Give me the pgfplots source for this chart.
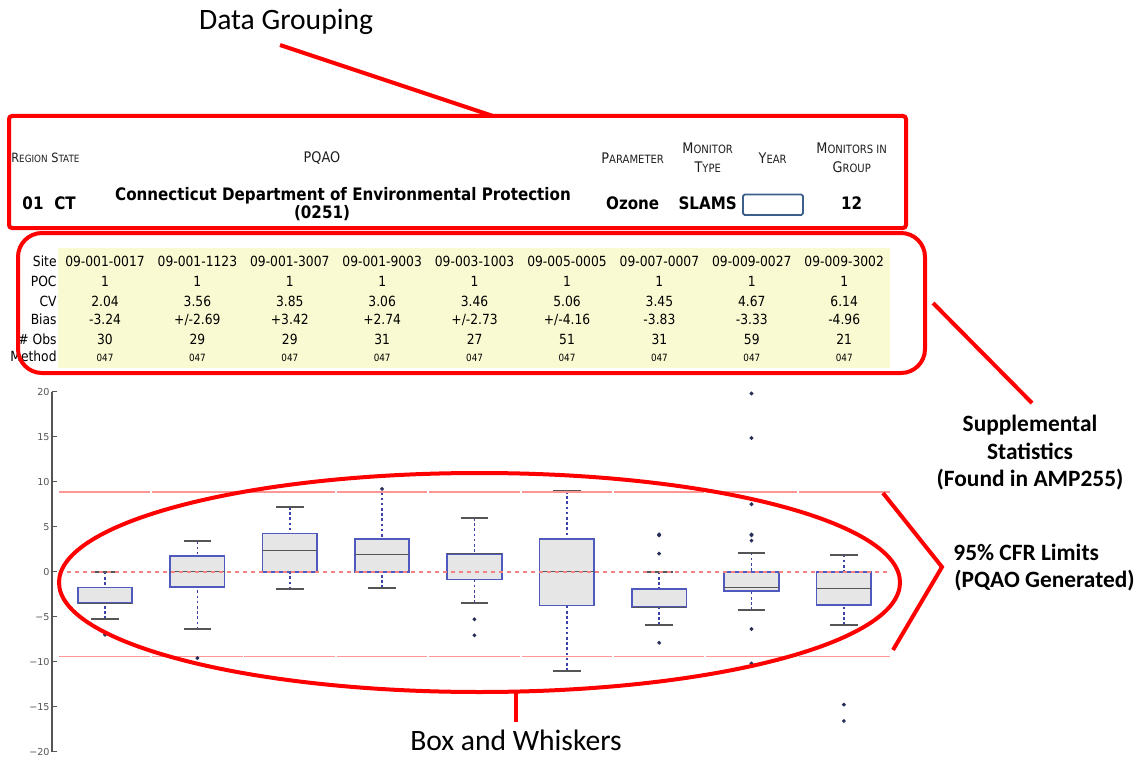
\documentclass[border=0pt]{standalone}
\usepackage{pgfplots}
\pgfplotsset{compat=1.18}
\usepgfplotslibrary{statistics}
\usepackage{fontspec}
\setmainfont{Carlito}
\newfontfamily\tah[FakeStretch=0.88]{DejaVu Sans}
\newfontfamily\dvs{DejaVu Sans}
\definecolor{annred}{RGB}{255,0,0}
\definecolor{limpink}{RGB}{255,150,150}
\definecolor{zeropink}{RGB}{240,130,130}
\definecolor{boxblue}{RGB}{80,90,190}
\definecolor{whiskblue}{RGB}{60,66,170}
\definecolor{capgray}{RGB}{85,85,85}
\definecolor{boxfill}{RGB}{230,230,230}
\definecolor{outcol}{RGB}{40,48,90}
\definecolor{tabyellow}{RGB}{250,250,210}
\definecolor{yearblue}{RGB}{60,95,140}
\definecolor{hdrtext}{RGB}{30,30,30}
\newcommand\scA[1]{{\fontsize{7.3}{8}\selectfont #1}}
\newcommand\scB[1]{{\fontsize{5.7}{7}\selectfont #1}}
\newcommand\scC[1]{{\fontsize{6.4}{8}\selectfont #1}}
\newcommand\scD[1]{{\fontsize{5.0}{7}\selectfont #1}}
\newcommand\tabfont{\tah\fontsize{7}{8}\selectfont}
\newcommand\tabsmall{\tah\fontsize{5}{6}\selectfont}
\newcommand\hdrfont{\tah\bfseries\fontsize{8.6}{10}\selectfont}
\newcommand\trow[9]{%
  \node[anchor=base,font=\tabfont] at (105,\ty) {#1};
  \node[anchor=base,font=\tabfont] at (197.4,\ty) {#2};
  \node[anchor=base,font=\tabfont] at (289.8,\ty) {#3};
  \node[anchor=base,font=\tabfont] at (382.2,\ty) {#4};
  \node[anchor=base,font=\tabfont] at (474.6,\ty) {#5};
  \node[anchor=base,font=\tabfont] at (567,\ty) {#6};
  \node[anchor=base,font=\tabfont] at (659.4,\ty) {#7};
  \node[anchor=base,font=\tabfont] at (751.8,\ty) {#8};
  \node[anchor=base,font=\tabfont] at (844.2,\ty) {#9};}
\pgfplotsset{
  boxplot/draw/lower whisker/.code={%
    \draw[draw=whiskblue, line width=0.85pt, dash pattern=on 1.3pt off 1.3pt]
      (boxplot box cs:\pgfplotsboxplotvalue{lower whisker},0.5) --
      (boxplot box cs:\pgfplotsboxplotvalue{lower quartile},0.5);
    \draw[draw=capgray, line width=1pt, solid]
      (boxplot whisker cs:\pgfplotsboxplotvalue{lower whisker},0) --
      (boxplot whisker cs:\pgfplotsboxplotvalue{lower whisker},1);
  },
  boxplot/draw/upper whisker/.code={%
    \draw[draw=whiskblue, line width=0.85pt, dash pattern=on 1.3pt off 1.3pt]
      (boxplot box cs:\pgfplotsboxplotvalue{upper whisker},0.5) --
      (boxplot box cs:\pgfplotsboxplotvalue{upper quartile},0.5);
    \draw[draw=capgray, line width=1pt, solid]
      (boxplot whisker cs:\pgfplotsboxplotvalue{upper whisker},0) --
      (boxplot whisker cs:\pgfplotsboxplotvalue{upper whisker},1);
  },
  boxplot/draw/median/.code={%
    \draw[draw=capgray, line width=0.5pt, solid]
      (boxplot box cs:\pgfplotsboxplotvalue{median},0) --
      (boxplot box cs:\pgfplotsboxplotvalue{median},1);
  },
  boxplot/every box/.style={draw=boxblue, fill=boxfill, line width=0.85pt, solid},
  bx/.style={mark=*, mark size=0.75pt, mark options={draw=outcol, fill=outcol, solid}},
  limline/.style={draw=limpink, color=limpink, line width=0.8pt, solid, no markers, unbounded coords=jump},
}
\begin{document}
\begin{tikzpicture}
\begin{scope}[x=0.5pt,y=-0.5pt]
\path[use as bounding box] (0,0) rectangle (1141,757);
\coordinate (axo) at (52,751.7);
\end{scope}
\begin{axis}[at={(axo)}, anchor=south west, scale only axis,
  width=419pt, height=180pt,
  xmin=0.426, xmax=9.5, ymin=-20, ymax=20,
  axis x line=none, axis y line=left,
  y axis line style={-, draw=capgray, line width=0.6pt},
  ytick={-20,-15,-10,-5,0,5,10,15,20},
  yticklabels={−20,−15,−10,−5,0,5,10,15,20},
  yticklabel style={font=\dvs\fontsize{4.8}{5}\selectfont, text=capgray, inner sep=1pt},
  tick align=inside, major tick length=2.5pt,
  tick style={draw=capgray, line width=0.6pt},
  clip=false,
  boxplot/draw direction=y,
  boxplot/box extend=0.59, boxplot/whisker extend=0.3,
]
\addplot[bx, boxplot prepared={draw position=1, lower whisker=-5.25, lower quartile=-3.51, median=-3.51, upper quartile=-1.74, upper whisker=0}]
  table[row sep=\\, y index=0] {y\\ -7.0\\};
\addplot[bx, boxplot prepared={draw position=2, lower whisker=-6.4, lower quartile=-1.7, median=0, upper quartile=1.71, upper whisker=3.37}]
  table[row sep=\\, y index=0] {y\\ -9.6\\};
\addplot[bx, boxplot prepared={draw position=3, lower whisker=-1.96, lower quartile=0, median=2.41, upper quartile=4.26, upper whisker=7.19}]
  coordinates {};
\addplot[bx, boxplot prepared={draw position=4, lower whisker=-1.81, lower quartile=0, median=1.86, upper quartile=3.6, upper whisker=8.82}]
  table[row sep=\\, y index=0] {y\\ 9.2\\};
\addplot[bx, boxplot prepared={draw position=5, lower whisker=-3.48, lower quartile=-0.88, median=1.97, upper quartile=1.97, upper whisker=5.97}]
  table[row sep=\\, y index=0] {y\\ -5.29\\ -7.07\\};
\addplot[bx, boxplot prepared={draw position=6, lower whisker=-11.0, lower quartile=-3.77, median=0, upper quartile=3.6, upper whisker=8.97}]
  coordinates {};
\addplot[bx, boxplot prepared={draw position=7, lower whisker=-5.92, lower quartile=-3.96, median=-3.96, upper quartile=-1.92, upper whisker=0}]
  table[row sep=\\, y index=0] {y\\ 4.15\\ 4.04\\ 2.01\\ -7.9\\};
\addplot[bx, boxplot prepared={draw position=8, lower whisker=-4.25, lower quartile=-2.14, median=-1.74, upper quartile=0, upper whisker=2.12}]
  table[row sep=\\, y index=0] {y\\ 19.8\\ 14.86\\ 7.5\\ 4.13\\ 4.04\\ 3.45\\ -6.37\\ -10.2\\};
\addplot[bx, boxplot prepared={draw position=9, lower whisker=-5.92, lower quartile=-3.7, median=-1.85, upper quartile=0, upper whisker=1.89}]
  table[row sep=\\, y index=0] {y\\ -14.77\\ -16.59\\};
\addplot[limline] coordinates {
(0.5,8.85)(1.49,8.85)(1.5,nan)(1.51,8.85)(2.49,8.85)(2.5,nan)(2.51,8.85)(3.49,8.85)(3.5,nan)
(3.51,8.85)(4.49,8.85)(4.5,nan)(4.51,8.85)(5.49,8.85)(5.5,nan)(5.51,8.85)(6.49,8.85)(6.5,nan)
(6.51,8.85)(7.49,8.85)(7.5,nan)(7.51,8.85)(8.49,8.85)(8.5,nan)(8.51,8.85)(9.5,8.85)};
\addplot[limline] coordinates {
(0.5,-9.44)(1.49,-9.44)(1.5,nan)(1.51,-9.44)(2.49,-9.44)(2.5,nan)(2.51,-9.44)(3.49,-9.44)(3.5,nan)
(3.51,-9.44)(4.49,-9.44)(4.5,nan)(4.51,-9.44)(5.49,-9.44)(5.5,nan)(5.51,-9.44)(6.49,-9.44)(6.5,nan)
(6.51,-9.44)(7.49,-9.44)(7.5,nan)(7.51,-9.44)(8.49,-9.44)(8.5,nan)(8.51,-9.44)(9.5,-9.44)};
\addplot[draw=zeropink, color=zeropink, no markers, line width=0.8pt, dash pattern=on 2pt off 2pt] coordinates {(0.5,0) (9.5,0)};
\end{axis}
\begin{scope}[x=0.5pt,y=-0.5pt]
% ---- header ----
\node[anchor=base west, font=\fontsize{14.8}{16}\selectfont] at (192,30) {Data Grouping};
\draw[annred, line width=2pt] (280,45) -- (493,116);
\node[anchor=base west, text=hdrtext, font=\tah, inner sep=0pt] at (11,162.7) {\scC{R}\scD{EGION}};
\node[anchor=base west, text=hdrtext, font=\tah, inner sep=0pt] at (51,162.7) {\scC{S}\scD{TATE}};
\node[anchor=base, text=hdrtext, font=\tah] at (322,162.7) {\scA{PQAO}};
\node[anchor=base, text=hdrtext, font=\tah] at (632.7,163) {\scA{P}\scB{ARAMETER}};
\node[anchor=base, text=hdrtext, font=\tah] at (707.7,153.3) {\scA{M}\scB{ONITOR}};
\node[anchor=base, text=hdrtext, font=\tah] at (707.7,172.7) {\scA{T}\scB{YPE}};
\node[anchor=base, text=hdrtext, font=\tah] at (772.7,163) {\scA{Y}\scB{EAR}};
\node[anchor=base, text=hdrtext, font=\tah] at (851.7,153.3) {\scA{M}\scB{ONITORS IN}};
\node[anchor=base, text=hdrtext, font=\tah] at (851.7,172.7) {\scA{G}\scB{ROUP}};
\node[anchor=base, font=\hdrfont] at (33,209.3) {01};
\node[anchor=base, font=\hdrfont] at (65,209.3) {CT};
\node[anchor=base, font=\hdrfont] at (343,200.7) {Connecticut Department of Environmental Protection};
\node[anchor=base, font=\hdrfont] at (322,218.5) {(0251)};
\node[anchor=base, font=\hdrfont] at (632.7,209) {Ozone};
\node[anchor=base, font=\hdrfont] at (707.7,209) {SLAMS};
\node[anchor=base, font=\hdrfont] at (851.7,209) {12};
\draw[yearblue, line width=0.9pt, rounded corners=0.8pt] (743,194.5) rectangle (803,215);
\draw[annred, line width=2pt, rounded corners=1.5pt] (9,116) rectangle (906,228);
% ---- table ----
\fill[tabyellow] (58,248) rectangle (890,368);
\node[anchor=base east, font=\tabfont, inner sep=0pt] at (57,266) {Site};
\node[anchor=base east, font=\tabfont, inner sep=0pt] at (57,286.7) {POC};
\node[anchor=base east, font=\tabfont, inner sep=0pt] at (57,306) {CV};
\node[anchor=base east, font=\tabfont, inner sep=0pt] at (57,324.5) {Bias};
\node[anchor=base east, font=\tabfont, inner sep=0pt] at (57,344) {\# Obs};
\node[anchor=base east, font=\tabfont, inner sep=0pt] at (57,361.3) {Method};
\def\ty{266}\trow{09-001-0017}{09-001-1123}{09-001-3007}{09-001-9003}{09-003-1003}{09-005-0005}{09-007-0007}{09-009-0027}{09-009-3002}
\def\ty{286.7}\trow{1}{1}{1}{1}{1}{1}{1}{1}{1}
\def\ty{306}\trow{2.04}{3.56}{3.85}{3.06}{3.46}{5.06}{3.45}{4.67}{6.14}
\def\ty{324.5}\trow{-3.24}{+/-2.69}{+3.42}{+2.74}{+/-2.73}{+/-4.16}{-3.83}{-3.33}{-4.96}
\def\ty{344}\trow{30}{29}{29}{31}{27}{51}{31}{59}{21}
\begingroup\renewcommand\tabfont{\tabsmall}
\def\ty{361.3}\trow{047}{047}{047}{047}{047}{047}{047}{047}{047}
\endgroup
\draw[annred, line width=2pt, rounded corners=12pt] (18,233) rectangle (925,373);
% ---- right annotations ----
\draw[annred, line width=2pt] (933,303) -- (1032,403);
\node[anchor=base, font=\bfseries\fontsize{11.7}{14}\selectfont] at (1030,431.7) {Supplemental};
\node[anchor=base, font=\bfseries\fontsize{11.7}{14}\selectfont] at (1030,459) {Statistics};
\node[anchor=base, font=\bfseries\fontsize{11.7}{14}\selectfont] at (1030,486) {(Found in AMP255)};
\draw[annred, line width=2pt] (883,493) -- (942,567) -- (893,650);
\node[anchor=base west, font=\bfseries\fontsize{11.7}{14}\selectfont, inner sep=0pt] at (953,560) {95\% CFR Limits};
\node[anchor=base west, font=\bfseries\fontsize{11.7}{14}\selectfont, inner sep=0pt] at (954,587) {(PQAO Generated)};
% ---- ellipse ----
\draw[annred, line width=2pt] (479.5,582.5) ellipse [x radius=210.25pt, y radius=54.75pt];
\draw[annred, line width=2pt] (516,692) -- (516,721.7);
\node[anchor=base, font=\fontsize{14.8}{16}\selectfont] at (516,750) {Box and Whiskers};
\end{scope}
\end{tikzpicture}
\end{document}
